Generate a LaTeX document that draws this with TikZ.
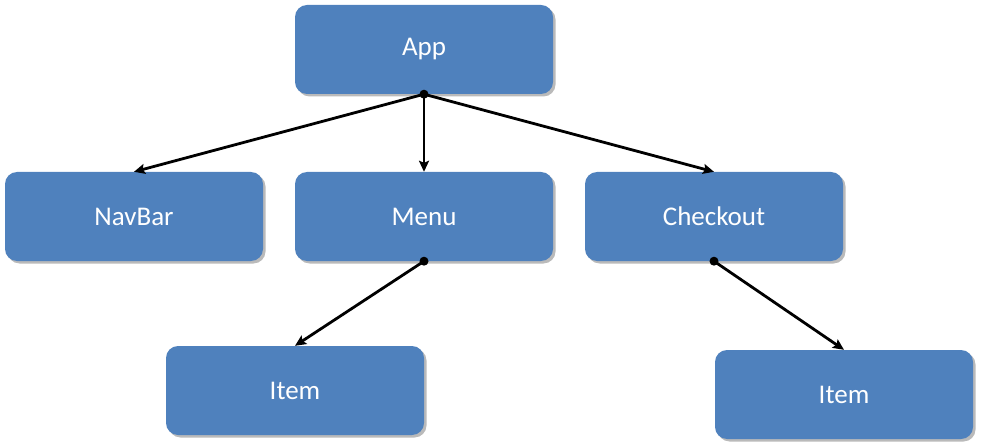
\documentclass[tikz,border=0pt]{standalone}
\usepackage{fontspec}
\setmainfont{Carlito}
\usetikzlibrary{arrows.meta,shadows}
\definecolor{boxblue}{HTML}{4F81BD}
\tikzset{
  box/.style={draw=none, fill=boxblue, rounded corners=12pt, minimum width=258pt, minimum height=89pt,
    inner sep=0pt, text=white, font=\fontsize{27}{30}\selectfont,
    drop shadow={shadow xshift=2.5pt, shadow yshift=-2.5pt, opacity=0.45, fill=black!60}},
  conn/.style={line width=2.8pt, -{Stealth[length=11pt,width=10pt,inset=2pt]}},
  dot/.style={fill=black}
}
\begin{document}
\begin{tikzpicture}[x=1pt,y=-1pt]
\useasboundingbox (0,0) rectangle (984,446);
\node[box] (app) at (424,49.5) {App};
\node[box] (navbar) at (134,216.5) {NavBar};
\node[box] (menu) at (424,216.5) {Menu};
\node[box] (checkout) at (714,216.5) {Checkout};
\node[box] (item1) at (295,390.5) {Item};
\node[box] (item2) at (844,394.5) {Item};
\draw[conn] (app.south) -- (navbar.north);
\draw[conn] (app.south) -- (menu.north);
\draw[conn] (app.south) -- (checkout.north);
\draw[conn] (menu.south) -- (item1.north);
\draw[conn] (checkout.south) -- (item2.north);
\fill[dot] (app.south) circle (4.5);
\fill[dot] (menu.south) circle (4.5);
\fill[dot] (checkout.south) circle (4.5);
\end{tikzpicture}
\end{document}
